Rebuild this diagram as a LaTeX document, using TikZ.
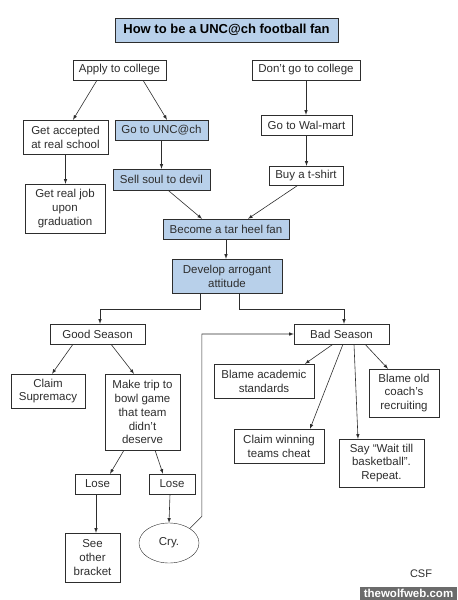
\documentclass[tikz,border=0pt]{standalone}
\usepackage{fontspec}
\setmainfont{Liberation Sans}
\usepackage{tikz}
\usetikzlibrary{arrows,positioning,shapes.geometric}
\definecolor{fanblue}{RGB}{184,208,234}
\definecolor{inkgray}{RGB}{45,45,45}
\tikzset{%
	plainbox/.style = {draw=inkgray, rectangle, inner sep=0pt, align=center, text=inkgray, font=\fontsize{11.5}{13.9}\selectfont},
	bluebox/.style  = {plainbox, fill=fanblue},
	titlebox/.style = {bluebox, text=black, font=\fontsize{13}{15}\selectfont\bfseries},
	cryshape/.style = {draw=inkgray, ellipse, inner sep=0pt, text=inkgray, font=\fontsize{11.5}{13.9}\selectfont},
	arrow/.style    = {draw=inkgray, line width=0.6pt, -latex},
}
\begin{document}
\begin{tikzpicture}[x=1pt,y=-1pt]
	\useasboundingbox (0,0) rectangle (458,600);
	
	\node[titlebox, minimum width=223pt, minimum height=24pt] (title) at (226.5,30) {How to be a UNC@ch football fan};
	
	\node[plainbox, minimum width=93pt, minimum height=20pt] (apply) at (119.5,70) {Apply to college};
	\node[plainbox, minimum width=108pt, minimum height=20pt] (dontgo) at (306,70) {Don't go to college};
	\node[plainbox, minimum width=85pt, minimum height=34pt] (accepted) at (65.5,137) {Get accepted\\at real school};
	\node[bluebox, minimum width=93pt, minimum height=20pt] (gounc) at (161.5,130) {Go to UNC@ch};
	\node[plainbox, minimum width=91pt, minimum height=20pt] (walmart) at (306.5,125) {Go to Wal-mart};
	\node[plainbox, minimum width=80pt, minimum height=49pt] (realjob) at (65,208.5) {Get real job\\upon\\graduation};
	\node[bluebox, minimum width=97pt, minimum height=21pt] (sellsoul) at (161.5,179.5) {Sell soul to devil};
	\node[plainbox, minimum width=74pt, minimum height=19pt] (tshirt) at (306,175.5) {Buy a t-shirt};
	\node[bluebox, minimum width=126pt, minimum height=20pt] (tarheel) at (226,229) {Become a tar heel fan};
	\node[bluebox, minimum width=110pt, minimum height=34pt] (arrogant) at (227,276) {Develop arrogant\\attitude};
	
	\node[plainbox, minimum width=95pt, minimum height=20pt] (good) at (97.5,334) {Good Season};
	\node[plainbox, minimum width=95pt, minimum height=20pt] (bad) at (341.5,334) {Bad Season};
	\node[plainbox, minimum width=74pt, minimum height=34pt] (supremacy) at (48,391) {Claim\\Supremacy};
	\node[plainbox, minimum width=75pt, minimum height=76pt] (bowl) at (142.5,412) {Make trip to\\bowl game\\that team\\didn't\\deserve};
	\node[plainbox, minimum width=100pt, minimum height=34pt] (academic) at (264,381) {Blame academic\\standards};
	\node[plainbox, minimum width=70pt, minimum height=48pt] (coach) at (404,393) {Blame old\\coach's\\recruiting};
	\node[plainbox, minimum width=90pt, minimum height=34pt] (cheat) at (279,446) {Claim winning\\teams cheat};
	\node[plainbox, minimum width=85pt, minimum height=48pt] (wait) at (381.5,463) {Say ``Wait till\\basketball''.\\Repeat.};
	\node[plainbox, minimum width=45pt, minimum height=20pt] (lose1) at (97.5,484) {Lose};
	\node[plainbox, minimum width=46pt, minimum height=20pt] (lose2) at (172,484) {Lose};
	\node[plainbox, minimum width=55pt, minimum height=49pt] (bracket) at (92.5,557.5) {See\\other\\bracket};
	\node[cryshape, minimum width=60pt, minimum height=40pt] (cry) at (169,543) {Cry.};
	
	\node[text=inkgray, font=\fontsize{11}{13}\selectfont] (csf) at (421,574) {CSF};
	\node[fill=black!58, text=white, inner sep=0pt, minimum width=97pt, minimum height=13pt, font=\fontsize{11.5}{13}\selectfont\bfseries] (wolfweb) at (408.5,593.5) {thewolfweb.com};
	
	\draw[arrow] ([xshift=-22.5pt]apply.south) -- ([xshift=7.5pt]accepted.north);
	\draw[arrow] ([xshift=23.5pt]apply.south) -- ([xshift=5.5pt]gounc.north);
	\draw[arrow] (dontgo.south) -- (dontgo.south |- walmart.north);
	\draw[arrow] (walmart.south) -- (walmart.south |- tshirt.north);
	\draw[arrow] (accepted.south) -- (accepted.south |- realjob.north);
	\draw[arrow] (gounc.south) -- (sellsoul.north);
	\draw[arrow] ([xshift=6.5pt]sellsoul.south) -- ([xshift=-24pt]tarheel.north);
	\draw[arrow] ([xshift=-8pt]tshirt.south) -- ([xshift=22pt]tarheel.north);
	\draw[arrow] (tarheel.south) -- (tarheel.south |- arrogant.north);
	
	\draw[arrow] ([xshift=-27pt]arrogant.south) -- ++(0,16) -| ([xshift=2.5pt]good.north);
	\draw[arrow] ([xshift=12pt]arrogant.south) -- ++(0,16) -| ([xshift=2.5pt]bad.north);
	
	\draw[arrow] ([xshift=-24.5pt]good.south) -- ([xshift=4pt]supremacy.north);
	\draw[arrow] ([xshift=13.5pt]good.south) -- ([xshift=-8.5pt]bowl.north);
	\draw[arrow] ([xshift=-8.5pt]bad.south) -- ([xshift=41pt]academic.north);
	\draw[arrow] ([xshift=1.5pt]bad.south) -- ([xshift=31pt]cheat.north);
	\draw[arrow] ([xshift=12.5pt]bad.south) -- ([xshift=-23.5pt]wait.north);
	\draw[arrow] ([xshift=23.5pt]bad.south) -- ([xshift=-16pt]coach.north);
	
	\draw[arrow] ([xshift=-18.5pt]bowl.south) -- ([xshift=12.5pt]lose1.north);
	\draw[arrow] ([xshift=12.5pt]bowl.south) -- ([xshift=-9pt]lose2.north);
	\draw[arrow] ([xshift=-1.5pt]lose1.south) -- ([xshift=3.5pt]bracket.north);
	\draw[arrow] ([xshift=-2pt]lose2.south) -- (cry.north);
	
	\draw[arrow] (cry.35) -- ++(12,-12) |- (bad.west);
\end{tikzpicture}
\end{document}
